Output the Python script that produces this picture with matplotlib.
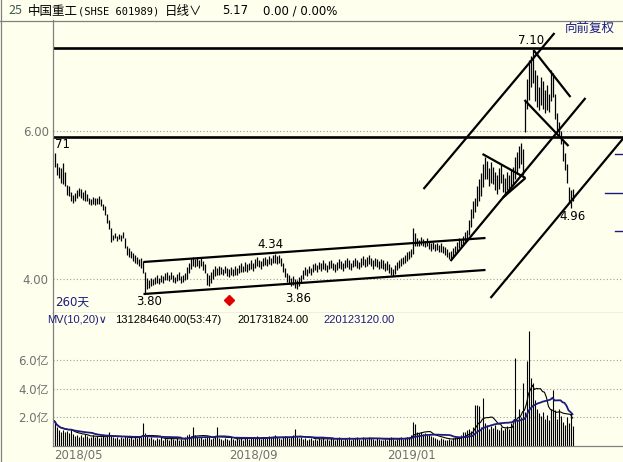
import numpy as np
import pandas as pd
import matplotlib
matplotlib.use("Agg")
import matplotlib.pyplot as plt
from matplotlib.lines import Line2D

# --- data (daily bars, volume in 亿 shares) ---
HIGH = [
    5.70, 5.57, 5.52, 5.50, 5.57, 5.45, 5.27, 5.25, 5.18, 5.14,
    5.16, 5.20, 5.23, 5.22, 5.18, 5.20, 5.15, 5.10, 5.08, 5.11,
    5.10, 5.09, 5.12, 5.08, 5.02, 4.98, 4.88, 4.80, 4.69, 4.60,
    4.62, 4.58, 4.61, 4.60, 4.64, 4.55, 4.45, 4.42, 4.38, 4.35,
    4.33, 4.30, 4.27, 4.28, 4.24, 4.10, 4.02, 3.98, 4.01, 4.00,
    4.03, 4.05, 4.02, 4.06, 4.04, 4.08, 4.10, 4.06, 4.09, 4.05,
    4.03, 4.07, 4.10, 4.04, 4.06, 4.08, 4.16, 4.22, 4.28, 4.30,
    4.27, 4.29, 4.26, 4.28, 4.24, 4.20, 4.08, 4.05, 4.10, 4.14,
    4.17, 4.15, 4.18, 4.16, 4.14, 4.17, 4.15, 4.13, 4.16, 4.14,
    4.17, 4.15, 4.19, 4.21, 4.18, 4.23, 4.20, 4.22, 4.25, 4.21,
    4.27, 4.30, 4.26, 4.24, 4.28, 4.30, 4.27, 4.31, 4.29, 4.32,
    4.34, 4.31, 4.33, 4.28, 4.22, 4.15, 4.08, 4.05, 4.02, 4.04,
    4.00, 3.98, 4.03, 4.06, 4.12, 4.16, 4.13, 4.18, 4.15, 4.20,
    4.22, 4.19, 4.23, 4.21, 4.25, 4.22, 4.19, 4.24, 4.26, 4.22,
    4.20, 4.23, 4.27, 4.24, 4.22, 4.26, 4.28, 4.25, 4.22, 4.26,
    4.29, 4.26, 4.23, 4.28, 4.31, 4.27, 4.30, 4.32, 4.28, 4.25,
    4.29, 4.27, 4.24, 4.27, 4.25, 4.22, 4.24, 4.20, 4.16, 4.14,
    4.19, 4.23, 4.26, 4.28, 4.30, 4.33, 4.36, 4.38, 4.40, 4.69,
    4.62, 4.56, 4.53, 4.57, 4.54, 4.52, 4.55, 4.50, 4.48, 4.50,
    4.47, 4.49, 4.46, 4.48, 4.45, 4.43, 4.40, 4.37, 4.38, 4.42,
    4.45, 4.50, 4.55, 4.53, 4.58, 4.63, 4.66, 4.80, 4.95, 5.05,
    5.10, 5.25, 5.35, 5.43, 5.55, 5.65, 5.60, 5.50, 5.58, 5.52,
    5.45, 5.40, 5.50, 5.56, 5.42, 5.36, 5.45, 5.40, 5.48, 5.52,
    5.65, 5.72, 5.80, 5.84, 5.75, 6.42, 6.70, 6.96, 7.02, 7.10,
    6.82, 6.75, 6.60, 6.73, 6.68, 6.55, 6.62, 6.50, 6.82, 6.78,
    6.50, 6.24, 6.12, 6.00, 5.88, 5.70, 5.55, 5.24, 5.20, 5.22,
]
LOW = [
    5.51, 5.40, 5.36, 5.30, 5.28, 5.25, 5.14, 5.12, 5.06, 5.03,
    5.05, 5.10, 5.12, 5.09, 5.07, 5.06, 5.05, 5.01, 5.00, 5.02,
    5.00, 5.01, 5.02, 4.98, 4.93, 4.86, 4.75, 4.68, 4.50, 4.53,
    4.55, 4.52, 4.54, 4.52, 4.55, 4.42, 4.33, 4.30, 4.28, 4.24,
    4.22, 4.20, 4.17, 4.15, 4.08, 3.80, 3.86, 3.88, 3.90, 3.92,
    3.93, 3.95, 3.93, 3.96, 3.95, 3.98, 3.99, 3.97, 4.00, 3.96,
    3.95, 3.97, 3.98, 3.94, 3.96, 3.98, 4.00, 4.08, 4.14, 4.18,
    4.16, 4.18, 4.15, 4.17, 4.12, 4.08, 3.92, 3.90, 3.95, 4.00,
    4.04, 4.05, 4.06, 4.07, 4.05, 4.08, 4.04, 4.03, 4.06, 4.04,
    4.05, 4.06, 4.08, 4.10, 4.09, 4.11, 4.10, 4.12, 4.13, 4.11,
    4.15, 4.18, 4.16, 4.14, 4.18, 4.19, 4.17, 4.20, 4.19, 4.21,
    4.22, 4.20, 4.21, 4.17, 4.10, 4.03, 3.96, 3.93, 3.90, 3.92,
    3.88, 3.86, 3.91, 3.95, 4.00, 4.06, 4.04, 4.08, 4.05, 4.10,
    4.12, 4.10, 4.13, 4.11, 4.14, 4.12, 4.09, 4.13, 4.15, 4.12,
    4.10, 4.12, 4.15, 4.14, 4.11, 4.15, 4.16, 4.14, 4.12, 4.16,
    4.17, 4.15, 4.13, 4.16, 4.19, 4.16, 4.18, 4.20, 4.17, 4.14,
    4.17, 4.16, 4.14, 4.15, 4.13, 4.11, 4.12, 4.08, 4.06, 4.04,
    4.07, 4.12, 4.15, 4.18, 4.20, 4.22, 4.24, 4.27, 4.30, 4.34,
    4.45, 4.45, 4.44, 4.46, 4.44, 4.43, 4.45, 4.40, 4.38, 4.40,
    4.38, 4.39, 4.36, 4.37, 4.35, 4.33, 4.30, 4.27, 4.26, 4.30,
    4.35, 4.38, 4.42, 4.44, 4.46, 4.48, 4.52, 4.60, 4.70, 4.82,
    4.90, 4.98, 5.05, 5.12, 5.24, 5.35, 5.35, 5.26, 5.30, 5.28,
    5.20, 5.15, 5.22, 5.30, 5.18, 5.12, 5.20, 5.18, 5.25, 5.28,
    5.35, 5.42, 5.50, 5.55, 5.40, 5.99, 6.30, 6.42, 6.60, 6.65,
    6.40, 6.32, 6.28, 6.35, 6.30, 6.24, 6.28, 6.25, 6.40, 6.46,
    6.16, 6.00, 5.92, 5.82, 5.60, 5.47, 5.30, 5.03, 4.96, 5.05,
]
VOLUME = [
    1.74, 1.30, 1.15, 1.00, 1.10, 0.95, 1.05, 0.90, 1.20, 0.85,
    0.70, 0.80, 0.65, 0.75, 0.60, 0.85, 0.70, 0.55, 0.65, 0.80,
    0.60, 0.70, 0.55, 0.65, 0.75, 0.60, 0.70, 1.00, 0.80, 0.65,
    0.55, 0.60, 0.50, 0.65, 0.55, 0.70, 0.60, 0.55, 0.65, 0.50,
    0.60, 0.55, 0.70, 0.65, 1.58, 0.90, 0.70, 0.55, 0.60, 0.50,
    0.45, 0.55, 0.50, 0.60, 0.45, 0.55, 0.50, 0.45, 0.60, 0.50,
    0.45, 0.55, 0.40, 0.50, 0.45, 0.60, 0.75, 0.85, 0.70, 1.30,
    0.80, 0.65, 0.55, 0.60, 0.50, 0.55, 0.70, 0.60, 0.50, 0.55,
    0.60, 1.30, 0.55, 0.50, 0.45, 0.55, 0.50, 0.45, 0.60, 0.50,
    0.45, 0.55, 0.50, 0.60, 0.45, 0.55, 0.65, 0.50, 0.60, 0.55,
    0.60, 0.70, 0.55, 0.50, 0.65, 0.60, 0.55, 0.70, 0.60, 0.65,
    0.75, 0.60, 0.55, 0.50, 0.60, 0.70, 0.65, 0.55, 0.60, 0.75,
    1.20, 0.65, 0.55, 0.60, 0.50, 0.55, 0.45, 0.50, 0.55, 0.45,
    0.50, 0.45, 0.55, 0.50, 0.60, 0.45, 0.50, 0.40, 0.55, 0.50,
    0.45, 0.55, 0.60, 0.50, 0.45, 0.55, 0.50, 0.60, 0.45, 0.50,
    0.55, 0.60, 0.50, 0.45, 0.65, 0.55, 0.50, 0.60, 0.55, 0.50,
    0.45, 0.55, 0.50, 0.45, 0.40, 0.50, 0.45, 0.55, 0.60, 0.50,
    0.45, 0.50, 0.55, 0.60, 0.50, 0.55, 0.65, 0.60, 0.75, 1.65,
    1.55, 1.00, 0.90, 0.95, 0.85, 0.90, 0.80, 0.75, 0.70, 0.65,
    0.55, 0.50, 0.45, 0.55, 0.50, 0.45, 0.40, 0.50, 0.45, 0.55,
    0.60, 0.65, 0.55, 0.80, 1.00, 0.95, 1.15, 1.20, 1.05, 1.30,
    2.90, 2.85, 2.80, 1.30, 3.40, 1.60, 1.50, 1.20, 1.40, 1.25,
    1.50, 1.20, 1.10, 1.30, 1.15, 1.25, 1.40, 1.20, 1.60, 1.50,
    6.20, 1.80, 2.60, 2.00, 4.40, 2.40, 5.95, 8.06, 4.78, 4.43,
    3.20, 2.60, 2.30, 2.10, 2.40, 1.90, 2.20, 1.80, 2.60, 3.90,
    2.50, 1.90, 2.60, 2.10, 1.70, 1.50, 2.00, 1.60, 2.30, 1.40,
]

# hand-drawn lines: (bar index, price) end points
TREND_LINES = [
    ((44.5, 4.23), (215.5, 4.554)),
    ((44.5, 3.797), (215.5, 4.122)),
    ((184.5, 5.216), (250.0, 7.324)),
    ((198.0, 4.243), (265.5, 6.446)),
    ((218.0, 3.743), (284.5, 5.905)),
    ((214.0, 5.689), (235.5, 5.365)),
    ((235.5, 5.365), (224.0, 5.095)),
    ((239.5, 7.095), (258.0, 6.459)),
    ((235.0, 6.419), (257.0, 5.797)),
]
LEVELS = [7.12, 5.92]

# price marks: (bar index, price, text)
PRICE_NOTES = [(238.5, 7.22, "7.10"), (259.0, 4.84, "4.96"), (108.0, 4.46, "4.34"),
               (47.5, 3.70, "3.80"), (122.0, 3.74, "3.86")]
SIGNAL = (87.2, 3.716)
SIDE_MARKS = [(280.0, 5.69), (275.0, 5.16), (280.0, 4.65)]

PRICE_TICKS = [4.0, 6.0]
VOL_TICKS = [2.0, 4.0, 6.0]
DATE_POS = [0, 87.5, 166.5]
DATE_LABELS = ["2018/05", "2018/09", "2019/01"]

BG = "#FFFFEE"
GRAY = "#808080"
NAVY = "#1C1C80"
FONTS = ["DejaVu Sans", "Noto Sans CJK SC"]
NARROW = ["Liberation Sans", "DejaVu Sans"]
CJK = ["Noto Sans CJK SC", "DejaVu Sans"]

W, H = 623, 462
fig = plt.figure(figsize=(W / 100, H / 100), dpi=100, facecolor=BG)


def box(x0, y0, x1, y1):
    return [x0 / W, 1 - y1 / H, (x1 - x0) / W, (y1 - y0) / H]


ax = fig.add_axes(box(53, 20, 623, 313), facecolor=BG)
axv = fig.add_axes(box(53, 313, 623, 446), facecolor=BG)

idx = np.arange(len(HIGH))

# --- price panel ---
ax.vlines(idx, LOW, HIGH, color="black", lw=0.9)
for p in LEVELS:
    ax.axhline(p, color="black", lw=1.9)
for (x0, y0), (x1, y1) in TREND_LINES:
    ax.plot([x0, x1], [y0, y1], color="black", lw=1.6, solid_capstyle="butt")
for x, y, t in PRICE_NOTES:
    ax.text(x, y, t, ha="center", va="center", fontsize=8.5, family=FONTS)
ax.text(0, 5.824, "71", ha="left", va="center", fontsize=8.5, family=FONTS)
ax.text(0.5, 3.69, "260天", ha="left", va="center", fontsize=8.5, family=FONTS, color=NAVY)
ax.plot(*SIGNAL, marker="D", color="#E00000", ms=5.5, mec="#E00000")
for x, y in SIDE_MARKS:
    ax.plot([x, 284.5], [y, y], color=NAVY, lw=1.0)

ax.set_xlim(-0.75, 284.25)
ax.set_ylim(3.5405, 7.5)
ax.set_yticks(PRICE_TICKS)
ax.set_yticklabels([f"{v:.2f}" for v in PRICE_TICKS])
ax.set_xticks([])
ax.grid(axis="y", linestyle=(0, (1, 2)), color="#A0A0A0", lw=0.8)
ax.tick_params(axis="y", length=0, pad=3, labelsize=8.5, labelcolor="#707070")
for s in ["top", "right"]:
    ax.spines[s].set_visible(False)
for s in ["left", "bottom"]:
    ax.spines[s].set_color(GRAY)
    ax.spines[s].set_linewidth(0.9)

# --- volume panel ---
vol = pd.Series(VOLUME)
axv.vlines(idx, 0, VOLUME, color="black", lw=0.8)
axv.plot(idx, vol.rolling(10, min_periods=1).mean(), color="black", lw=0.8)
axv.plot(idx, vol.rolling(20, min_periods=1).mean(), color=NAVY, lw=1.3)
axv.set_xlim(-0.75, 284.25)
axv.set_ylim(0, 9.33)
axv.set_yticks(VOL_TICKS)
axv.set_yticklabels([f"{v:.1f}亿" for v in VOL_TICKS])
axv.set_xticks([])
axv.grid(axis="y", linestyle=(0, (1, 2)), color="#A0A0A0", lw=0.8)
axv.tick_params(axis="y", length=0, pad=3, labelsize=8.5, labelcolor="#707070")
for lab in axv.get_yticklabels():
    lab.set_family(FONTS)
for s in ["top", "right"]:
    axv.spines[s].set_visible(False)
for s in ["left", "bottom"]:
    axv.spines[s].set_color(GRAY)
    axv.spines[s].set_linewidth(0.9)
for x, t in zip(DATE_POS, DATE_LABELS):
    axv.text(x, -0.65, t, ha="left", va="center", fontsize=8.5, color="#707070", family=FONTS)

# --- header rows ---
def ftext(x, y, s, **kw):
    kw.setdefault("fontsize", 9)
    kw.setdefault("family", CJK)
    fig.text(x / W, 1 - y / H, s, va="center", ha="left", **kw)


ftext(8, 11, "25", color="#3C5A5A")
ftext(28, 11, "中国重工", color="black")
ftext(78, 11, "(SHSE 601989)", color="black", family=["DejaVu Sans Mono"], fontsize=7.5)
ftext(165, 11, "日线∨", color="black")
ftext(222, 11, "5.17", color="black", family=FONTS, fontsize=8.5)
ftext(263, 11, "0.00 / 0.00%", color="black", family=FONTS, fontsize=8.5)
ftext(565, 28, "向前复权", color=NAVY)
ftext(47, 320, "MV(10,20)∨", color=NAVY, family=NARROW, fontsize=8)
ftext(115, 320, "131284640.00(53:47)", color="black", family=NARROW, fontsize=8)
ftext(237, 320, "201731824.00", color="black", family=NARROW, fontsize=8)
ftext(323, 320, "220123120.00", color=NAVY, family=NARROW, fontsize=8)

fig.add_artist(Line2D([0, 1], [1 - 20.5 / H] * 2, color=GRAY, lw=0.9, transform=fig.transFigure))
fig.add_artist(Line2D([0.5 / W] * 2, [0, 1], color=GRAY, lw=0.9, transform=fig.transFigure))

fig.savefig("out.png", dpi=100, facecolor=BG)
